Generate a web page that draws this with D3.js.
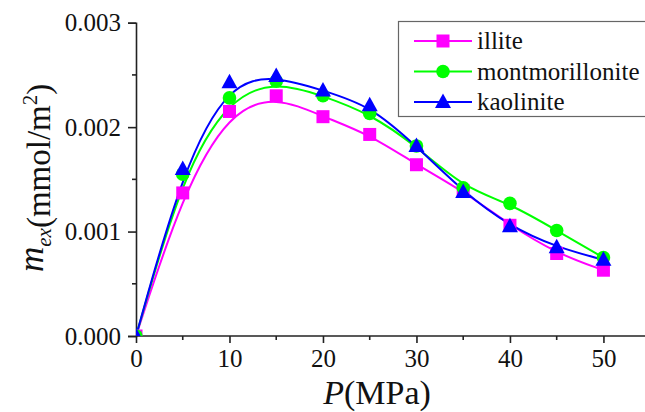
<!DOCTYPE html>
<html>
<head>
<meta charset="utf-8">
<script src="https://cdn.jsdelivr.net/npm/d3@7"></script>
<style>
  body { margin: 0; background: #fff; }
  svg text { font-family: "Liberation Serif", "Times New Roman", Times, serif; }
</style>
</head>
<body>
<div id="chart"></div>
<script>
const W = 645, H = 412;

// pressure (MPa)
const pressure = [0, 5, 10, 15, 20, 25, 30, 35, 40, 45, 50];
// excess adsorption (mmol/m2)
const illite = [0, 0.00137, 0.00215, 0.00230, 0.00210, 0.00193, 0.00164, 0.00139, 0.00106, 0.00079, 0.00063];
const montmorillonite = [0, 0.00155, 0.00228, 0.00244, 0.00230, 0.00213, 0.00182, 0.00142, 0.00127, 0.00101, 0.00075];
const kaolinite = [0, 0.00160, 0.00243, 0.00249, 0.00235, 0.00221, 0.00182, 0.00138, 0.00105, 0.00085, 0.00073];

const yTicks = [0, 0.001, 0.002, 0.003];
const xTicks = [0, 10, 20, 30, 40, 50];

const series = [
  { name: "illite", values: illite, color: "#ff00ff", shape: "square" },
  { name: "montmorillonite", values: montmorillonite, color: "#00ff00", shape: "circle" },
  { name: "kaolinite", values: kaolinite, color: "#0000ff", shape: "triangle" }
];

const x = d3.scaleLinear().domain([0, 54.5]).range([136, 645.5]);
const y = d3.scaleLinear().domain([0, 0.003]).range([336, 22.7]);

const svg = d3.select("#chart").append("svg")
  .attr("width", W).attr("height", H);

svg.append("clipPath").attr("id", "plotclip")
  .append("rect")
  .attr("x", x(0)).attr("y", 0)
  .attr("width", W - x(0)).attr("height", y(0));

// axes
const xAxis = svg.append("g")
  .attr("transform", `translate(0,${y(0)})`)
  .call(d3.axisBottom(x).tickValues(xTicks).tickSize(7).tickPadding(6).tickFormat(d3.format("d")));
xAxis.append("g").selectAll("line")
  .data(d3.range(5, 55, 10)).join("line")
  .attr("x1", d => x(d)).attr("x2", d => x(d))
  .attr("y1", 0).attr("y2", 4);

const yAxis = svg.append("g")
  .attr("transform", `translate(${x(0)},0)`)
  .call(d3.axisLeft(y).tickValues(yTicks).tickSize(8).tickPadding(7).tickFormat(d3.format(".3f")));
yAxis.append("g").selectAll("line")
  .data([0.0005, 0.0015, 0.0025]).join("line")
  .attr("x1", 0).attr("x2", -4)
  .attr("y1", d => y(d)).attr("y2", d => y(d));

[xAxis, yAxis].forEach(a => {
  a.attr("font-family", null);
  a.select(".domain").attr("stroke", "#222").attr("stroke-width", 1.6);
  a.selectAll("line").attr("stroke", "#222").attr("stroke-width", 1.6);
  a.selectAll("text").attr("font-size", 25).attr("fill", "#111");
});
xAxis.select(".domain").attr("d", `M${x(0)},0H${W}`);

// axis titles
const xt = svg.append("text")
  .attr("x", 377).attr("y", 404)
  .attr("text-anchor", "middle")
  .attr("font-size", 34).attr("fill", "#111");
xt.append("tspan").attr("font-style", "italic").text("P");
xt.append("tspan").text("(MPa)");

const yt = svg.append("text")
  .attr("transform", `translate(43,272) rotate(-90)`)
  .attr("font-size", 33).attr("fill", "#111");
yt.append("tspan").attr("font-style", "italic").attr("font-size", 35).text("m");
yt.append("tspan").attr("font-style", "italic").attr("font-size", 21).attr("dy", 8).text("ex");
yt.append("tspan").attr("dy", -1).text("(mmol/m");
yt.append("tspan").attr("font-size", 21).attr("dy", -13).text("2");
yt.append("tspan").attr("dy", 13).text(")");

// lines and markers
const line = d3.line()
  .x((d, i) => x(pressure[i]))
  .y(d => y(d))
  .curve(d3.curveBasis);

const plot = svg.append("g").attr("clip-path", "url(#plotclip)");

function marker(g, shape, color, cx, cy) {
  if (shape === "square") {
    g.append("rect").attr("x", cx - 6.5).attr("y", cy - 6.5)
      .attr("width", 13).attr("height", 13).attr("fill", color);
  } else if (shape === "circle") {
    g.append("circle").attr("cx", cx).attr("cy", cy).attr("r", 6.8).attr("fill", color);
  } else {
    g.append("path")
      .attr("d", `M${cx},${cy - 8.5}L${cx + 8},${cy + 6}L${cx - 8},${cy + 6}Z`)
      .attr("fill", color);
  }
}

series.forEach(s => {
  plot.append("path")
    .attr("d", line(s.values))
    .attr("fill", "none")
    .attr("stroke", s.color)
    .attr("stroke-width", 2);
});
series.forEach(s => {
  const g = plot.append("g");
  s.values.forEach((v, i) => marker(g, s.shape, s.color, x(pressure[i]), y(v)));
});

// legend
const legend = svg.append("g");
legend.append("rect")
  .attr("x", 398.5).attr("y", 21.5)
  .attr("width", 250).attr("height", 95)
  .attr("fill", "#fff").attr("stroke", "#666").attr("stroke-width", 1.2);
series.forEach((s, i) => {
  const cy = 41 + i * 30.5;
  legend.append("line")
    .attr("x1", 414).attr("x2", 472)
    .attr("y1", cy).attr("y2", cy)
    .attr("stroke", s.color).attr("stroke-width", 2);
  marker(legend, s.shape, s.color, 443, cy);
  legend.append("text")
    .attr("x", 477).attr("y", cy + 8)
    .attr("font-size", 25).attr("fill", "#111")
    .text(s.name);
});
</script>
</body>
</html>
